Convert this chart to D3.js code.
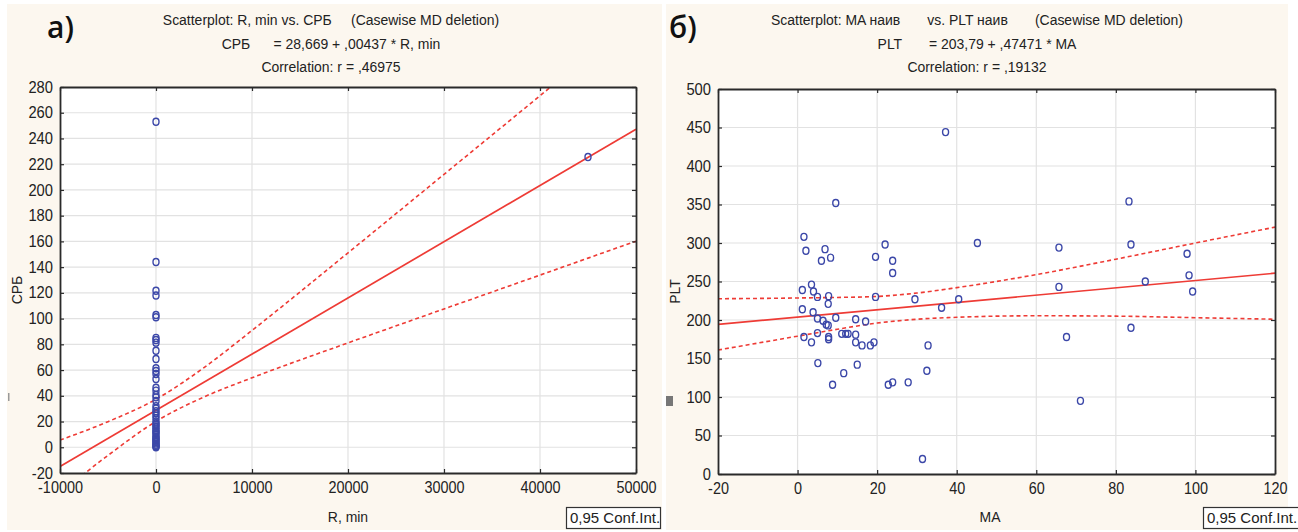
<!DOCTYPE html>
<html>
<head>
<meta charset="utf-8">
<script src="https://cdn.jsdelivr.net/npm/d3@7"></script>
<style>
body { margin: 0; background: #fff; }
svg text { font-family: "Liberation Sans Narrow", "Arial Narrow", "Liberation Sans", Arial, sans-serif; fill: #222; }
.pre { white-space: pre; }
</style>
</head>
<body>
<div id="chart"></div>
<script>
(function(){

var width = 1298,
	height = 532;

// ---- panel a) : R, min vs CPБ ----

var a_titles = [
	"Scatterplot: R, min vs. CPБ     (Casewise MD deletion)",
	"CPБ      = 28,669 + ,00437 * R, min",
	"Correlation: r = ,46975"
];
var a_xTicks = [-10000, 0, 10000, 20000, 30000, 40000, 50000];
var a_yTicks = [-20, 0, 20, 40, 60, 80, 100, 120, 140, 160, 180, 200, 220, 240, 260, 280];
var a_fit = {intercept: 28.669, slope: 0.00437};

// R, min  (almost all cases at 0, one case at 45000)
var a_R = [0,0,0,0,0,0,0,0,0,0,0,0,0,0,0,0,0,0,0,0,0,0,0,0,0,0,0,0,0,0,0,0,0,0,0,0,0,0,0,0,0,0,0,0,0,45000];
var a_CRB = [253,144,121.7,118,102.8,101,85,83.4,81.3,75,68.6,61.4,59.3,57,53,46.3,44,40.6,38.8,36,32,30,28,26.4,24.5,22.5,20,18.5,17.3,16,14.5,13,12,11,9.5,8,7,6,5,4,3,2,1,0.5,0,225.6];

// 0,95 conf. band
var a_bandX = [-10000, -5000, 0, 5000, 10000, 20000, 30000, 40000, 50000];
var a_upper = [5.6, 19.9, 37.3, 61.9, 90.8, 151.1, 212.1, 273.2, 334.6];
var a_lower = [-35.7, -6.3, 20.1, 39.1, 54.0, 81.1, 107.5, 133.8, 160.2];

// ---- panel б) : MA vs PLT ----

var b_titles = [
	"Scatterplot: MA наив       vs. PLT наив       (Casewise MD deletion)",
	"PLT       = 203,79 + ,47471 * MA",
	"Correlation: r = ,19132"
];
var b_xTicks = [-20, 0, 20, 40, 60, 80, 100, 120];
var b_yTicks = [0, 50, 100, 150, 200, 250, 300, 350, 400, 450, 500];
var b_fit = {intercept: 203.79, slope: 0.47471};

var b_MA = [9.6,1.6,2.1,6.9,6.0,8.3,3.5,1.2,4.0,5.0,7.8,7.7,1.2,3.9,5.0,6.4,7.2,7.7,9.6,14.6,1.6,5.0,3.5,7.8,7.8,11.1,12.1,12.7,14.6,14.6,5.1,15.0,11.6,8.8,22.0,19.6,23.9,23.9,45.2,19.6,29.5,40.5,36.2,17.1,16.2,18.3,19.2,32.8,32.5,22.8,23.9,27.8,83.3,65.7,83.8,97.9,98.4,87.4,65.7,99.3,83.8,67.6,71.1,31.4,37.2];
var b_PLT = [352,308,290,292,277,281,246,239,237,230,231,221,214,210,202,199,194,193,203,201,178,183,171,178,175,182,182,182,181,171,144,142,131,116,298,282,277,261,300,230,227,227,216,198,167,167,171,167,134,116,119,119,354,294,298,286,258,250,243,237,190,178,95,19.5,444];

var b_bandX = [-20, -10, 0, 10, 20, 30, 40, 60, 80, 100, 120];
var b_upper = [227.6, 228, 228.6, 229.3, 230.6, 235, 242, 259, 279, 300, 320.6];
var b_lower = [161, 170, 179, 188, 196, 201, 203.5, 205.5, 205, 203, 201];

var svg = d3.select("#chart").append("svg")
	.attr("width", width)
	.attr("height", height);

// cream background of the two statistica windows
svg.append("rect").attr("x", 7).attr("y", 4).attr("width", 655).attr("height", 526).style("fill", "#fcf7ef");
svg.append("rect").attr("x", 666).attr("y", 4).attr("width", 622).attr("height", 526).style("fill", "#fcf7ef");
// small grey marks at the left edges
svg.append("rect").attr("x", 8).attr("y", 393).attr("width", 1.5).attr("height", 8).style("fill", "#999");
svg.append("rect").attr("x", 666).attr("y", 396).attr("width", 7).attr("height", 10).style("fill", "#777");

var red = "#ee3b35",
	blue = "#3b47a8";

// statistica's font is narrower than what we have, squeeze the text a bit
function condense(sel, f){
	sel.each(function(){
		var l = this.getComputedTextLength();
		d3.select(this).attr("textLength", l * f).attr("lengthAdjust", "spacingAndGlyphs");
	});
}

panel({
	id: "a", tag: "а)", tagX: 47,
	left: 60, right: 636, top: 87, bottom: 473,
	xDomain: [-10000, 50000], yDomain: [-20, 280],
	xTicks: a_xTicks, yTicks: a_yTicks,
	titles: a_titles, titleX: 331,
	fit: a_fit, bandX: a_bandX, upper: a_upper, lower: a_lower,
	xs: a_R, ys: a_CRB,
	xLabel: "R, min", xLabelX: 348,
	yLabel: "CPБ", yLabelX: 22,
	legendX: 566, legendW: 94
});

panel({
	id: "b", tag: "б)", tagX: 669,
	left: 718, right: 1275, top: 89, bottom: 474,
	xDomain: [-20, 120], yDomain: [0, 500],
	xTicks: b_xTicks, yTicks: b_yTicks,
	titles: b_titles, titleX: 977,
	fit: b_fit, bandX: b_bandX, upper: b_upper, lower: b_lower,
	xs: b_MA, ys: b_PLT,
	xLabel: "MA", xLabelX: 990,
	yLabel: "PLT", yLabelX: 680,
	legendX: 1203, legendW: 100
});

function panel(o){

	var X = d3.scaleLinear().domain(o.xDomain).range([o.left, o.right]);
	var Y = d3.scaleLinear().domain(o.yDomain).range([o.bottom, o.top]);

	var g = svg.append("g").attr("id", "panel_" + o.id);

	// panel letter
	g.append("text")
		.attr("x", o.tagX).attr("y", 38)
		.style("font-family", "'Open Sans', 'Liberation Sans', sans-serif")
		.style("font-weight", "600")
		.style("font-size", "30px")
		.style("fill", "#111")
		.text(o.tag);

	// titles
	g.selectAll(".title").data(o.titles).enter().append("text")
		.attr("class", "title pre")
		.attr("x", o.titleX)
		.attr("y", function(d, i){ return 25 + i * 23.5; })
		.attr("text-anchor", "middle")
		.style("font-size", "15.5px")
		.text(function(d){ return d; })
		.call(condense, 0.9);

	// plot area
	g.append("rect")
		.attr("x", o.left).attr("y", o.top)
		.attr("width", o.right - o.left).attr("height", o.bottom - o.top)
		.style("fill", "#fff");

	// grid
	g.append("g").selectAll("line").data(o.xTicks.slice(1, -1)).enter().append("line")
		.attr("x1", function(d){ return X(d); }).attr("x2", function(d){ return X(d); })
		.attr("y1", o.top).attr("y2", o.bottom)
		.style("stroke", "#e2e2e2").style("stroke-width", 1.2);
	g.append("g").selectAll("line").data(o.yTicks.slice(1, -1)).enter().append("line")
		.attr("y1", function(d){ return Y(d); }).attr("y2", function(d){ return Y(d); })
		.attr("x1", o.left).attr("x2", o.right)
		.style("stroke", "#e2e2e2").style("stroke-width", 1.2);

	// clip for the lines
	svg.append("clipPath").attr("id", "clip_" + o.id)
		.append("rect")
		.attr("x", o.left).attr("y", o.top)
		.attr("width", o.right - o.left).attr("height", o.bottom - o.top);

	var lines = g.append("g").attr("clip-path", "url(#clip_" + o.id + ")");

	var band = d3.line()
		.x(function(d){ return X(d[0]); })
		.y(function(d){ return Y(d[1]); })
		.curve(d3.curveMonotoneX);

	[o.upper, o.lower].forEach(function(b){
		lines.append("path")
			.datum(o.bandX.map(function(x, i){ return [x, b[i]]; }))
			.attr("d", band)
			.style("fill", "none")
			.style("stroke", red)
			.style("stroke-width", 1.6)
			.style("stroke-dasharray", "4,3");
	});

	lines.append("line")
		.attr("x1", X(o.xDomain[0])).attr("y1", Y(o.fit.intercept + o.fit.slope * o.xDomain[0]))
		.attr("x2", X(o.xDomain[1])).attr("y2", Y(o.fit.intercept + o.fit.slope * o.xDomain[1]))
		.style("stroke", red)
		.style("stroke-width", 1.7);

	// points
	g.append("g").selectAll("ellipse").data(o.xs).enter().append("ellipse")
		.attr("cx", function(d){ return X(d); })
		.attr("cy", function(d, i){ return Y(o.ys[i]); })
		.attr("rx", 3).attr("ry", 3.5)
		.style("fill", "none")
		.style("stroke", blue)
		.style("stroke-width", 1.4);

	// axes, ticks pointing inwards
	var fmt = function(d){ return String(d); };

	var bottom = g.append("g").attr("transform", "translate(0," + o.bottom + ")")
		.call(d3.axisBottom(X).tickValues(o.xTicks).tickSizeInner(-4).tickSizeOuter(0).tickPadding(9).tickFormat(fmt));
	var left = g.append("g").attr("transform", "translate(" + o.left + ",0)")
		.call(d3.axisLeft(Y).tickValues(o.yTicks).tickSizeInner(-4).tickSizeOuter(0).tickPadding(7).tickFormat(fmt));
	var top = g.append("g").attr("transform", "translate(0," + o.top + ")")
		.call(d3.axisTop(X).tickValues(o.xTicks).tickSizeInner(-4).tickSizeOuter(0).tickFormat(""));
	var right = g.append("g").attr("transform", "translate(" + o.right + ",0)")
		.call(d3.axisRight(Y).tickValues(o.yTicks).tickSizeInner(-4).tickSizeOuter(0).tickFormat(""));

	[bottom, left, top, right].forEach(function(a){
		a.attr("font-family", null).attr("font-size", null);
		a.select(".domain").style("stroke", "#2a2a2a").style("stroke-width", 1.8);
		a.selectAll(".tick line").style("stroke", "#2a2a2a").style("stroke-width", 1.2);
		a.selectAll(".tick text").style("font-size", "16px").style("fill", "#222");
	});
	bottom.selectAll(".tick text").call(condense, 0.9);
	left.selectAll(".tick text").call(condense, 0.92);

	// axis labels
	g.append("text")
		.attr("x", o.xLabelX).attr("y", 522)
		.attr("text-anchor", "middle")
		.style("font-size", "15.5px")
		.text(o.xLabel)
		.call(condense, 0.9);

	g.append("text")
		.attr("transform", "translate(" + o.yLabelX + "," + ((o.top + o.bottom) / 2 + 10) + ") rotate(-90)")
		.attr("text-anchor", "middle")
		.style("font-size", "15.5px")
		.text(o.yLabel)
		.call(condense, 0.9);

	// legend box
	g.append("rect")
		.attr("x", o.legendX + 0.5).attr("y", 507.5)
		.attr("width", o.legendW).attr("height", 21)
		.style("fill", "#fff")
		.style("stroke", "#333")
		.style("stroke-width", 1.2);
	g.append("text")
		.attr("x", o.legendX + 4).attr("y", 523)
		.style("font-size", "15px")
		.text("0,95 Conf.Int.");
}

})()
</script>
</body>
</html>
